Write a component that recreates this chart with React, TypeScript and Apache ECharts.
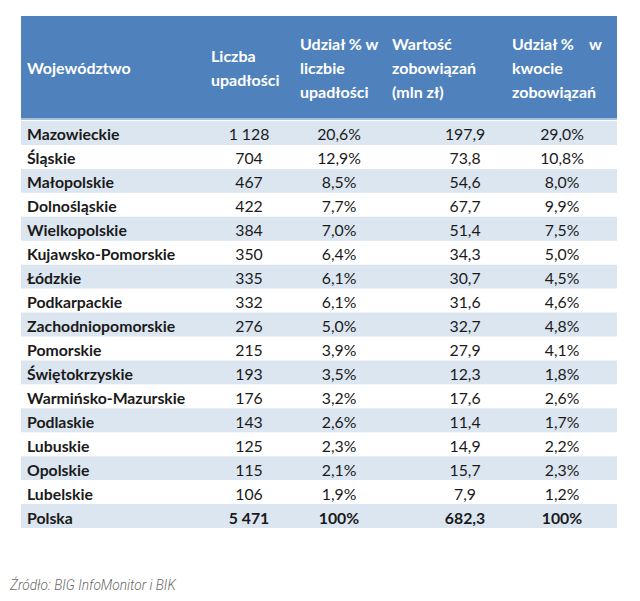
import React, { useEffect, useRef } from "react";
import * as echarts from "echarts";

const regions = [
  "Mazowieckie", "Śląskie", "Małopolskie", "Dolnośląskie", "Wielkopolskie",
  "Kujawsko-Pomorskie", "Łódzkie", "Podkarpackie", "Zachodniopomorskie", "Pomorskie",
  "Świętokrzyskie", "Warmińsko-Mazurskie", "Podlaskie", "Lubuskie", "Opolskie", "Lubelskie",
];
const bankruptcies = [1128, 704, 467, 422, 384, 350, 335, 332, 276, 215, 193, 176, 143, 125, 115, 106];
const bankruptcyShare = [20.6, 12.9, 8.5, 7.7, 7.0, 6.4, 6.1, 6.1, 5.0, 3.9, 3.5, 3.2, 2.6, 2.3, 2.1, 1.9];
const liabilities = [197.9, 73.8, 54.6, 67.7, 51.4, 34.3, 30.7, 31.6, 32.7, 27.9, 12.3, 17.6, 11.4, 14.9, 15.7, 7.9];
const liabilityShare = [29.0, 10.8, 8.0, 9.9, 7.5, 5.0, 4.5, 4.6, 4.8, 4.1, 1.8, 2.6, 1.7, 2.2, 2.3, 1.2];
const totalLabel = "Polska";
const totalBankruptcies = 5471;
const totalBankruptcyShare = 100;
const totalLiabilities = 682.3;
const totalLiabilityShare = 100;

const headerLines = [
  ["Województwo"],
  ["Liczba", "upadłości"],
  ["Udział % w", "liczbie", "upadłości"],
  ["Wartość", "zobowiązań", "(mln zł)"],
  ["Udział %    w", "kwocie", "zobowiązań"],
];
const sourceText = "Źródło: BIG InfoMonitor i BIK";

const FONT = "Lato, 'Open Sans', sans-serif";
const TL = 21, TR = 617, HEAD_TOP = 16, BODY_TOP = 121, ROW_H = 23.94;

const fmtInt = (v: number) => String(v).replace(/\B(?=(\d{3})+(?!\d))/g, " ");
const fmtDec = (v: number) => v.toFixed(1).replace(".", ",");
const fmtPct = (v: number, total: boolean) => (total ? String(v) : fmtDec(v)) + "%";

export default function App() {
  const ref = useRef<HTMLDivElement>(null);
  useEffect(() => {
    document.body.style.margin = "0";
    const chart = echarts.init(ref.current!, null, { renderer: "svg" });
    const rowNames = [...regions, totalLabel];
    const rows = rowNames.map((name, i) => {
      const total = i === regions.length;
      return [
        i,
        name,
        fmtInt(total ? totalBankruptcies : bankruptcies[i]),
        fmtPct(total ? totalBankruptcyShare : bankruptcyShare[i], total),
        fmtDec(total ? totalLiabilities : liabilities[i]),
        fmtPct(total ? totalLiabilityShare : liabilityShare[i], total),
      ];
    });
    const colX = [27, 249, 339, 465, 562];
    const headerX = [27, 211, 300, 392, 512];
    const graphics: any[] = [
      { type: "rect", shape: { x: TL, y: HEAD_TOP, width: TR - TL, height: BODY_TOP - HEAD_TOP - 3 }, style: { fill: "#4F81BD" } },
      { type: "rect", shape: { x: TL, y: BODY_TOP - 3, width: TR - TL, height: 2 }, style: { fill: "#A7C0DE" } },
    ];
    headerLines.forEach((lines, c) => {
      const n = lines.length;
      const centerY = 67;
      lines.forEach((t, k) => {
        graphics.push({
          type: "text",
          x: headerX[c],
          y: centerY + (k - (n - 1) / 2) * 24,
          style: { text: t, fill: "#ffffff", font: `bold 16px ${FONT}`, textVerticalAlign: "middle", textAlign: "left" },
        });
      });
    });
    graphics.push({
      type: "text", x: 10, y: 585,
      style: { text: sourceText, fill: "#6a6a6a", font: `italic 300 13.7px Roboto, sans-serif`, textVerticalAlign: "middle" },
    });

    chart.setOption({
      animation: false,
      grid: { left: TL, width: TR - TL, top: BODY_TOP, height: ROW_H * rowNames.length },
      xAxis: { type: "value", min: TL, max: TR, show: false },
      yAxis: { type: "category", inverse: true, data: rowNames, show: false },
      graphic: graphics,
      series: [
        {
          type: "custom",
          data: rows,
          encode: { x: -1, y: 0 },
          renderItem: (params: any, api: any) => {
            const i = api.value(0);
            const total = i === regions.length;
            const left = api.coord([TL, i]);
            const right = api.coord([TR, i]);
            const h = api.size([0, 1])[1];
            const cy = left[1];
            const children: any[] = [];
            if (i % 2 === 0) {
              children.push({
                type: "rect",
                shape: { x: left[0], y: cy - h / 2, width: right[0] - left[0], height: h },
                style: { fill: "#DCE6F1" },
              });
            }
            const d = rows[i];
            for (let c = 0; c < 5; c++) {
              const p = api.coord([colX[c], i]);
              children.push({
                type: "text",
                x: p[0],
                y: cy + 1,
                style: {
                  text: String(d[c + 1]),
                  fill: "#1a1a1a",
                  font: `${c === 0 || total ? "bold " : ""}15.8px ${FONT}`,
                  textAlign: c === 0 ? "left" : "center",
                  textVerticalAlign: "middle",
                },
              });
            }
            return { type: "group", children };
          },
        },
      ],
    });
    return () => chart.dispose();
  }, []);
  return <div ref={ref} style={{ width: 640, height: 601, position: "absolute", left: 0, top: 0, background: "#fff" }} />;
}
